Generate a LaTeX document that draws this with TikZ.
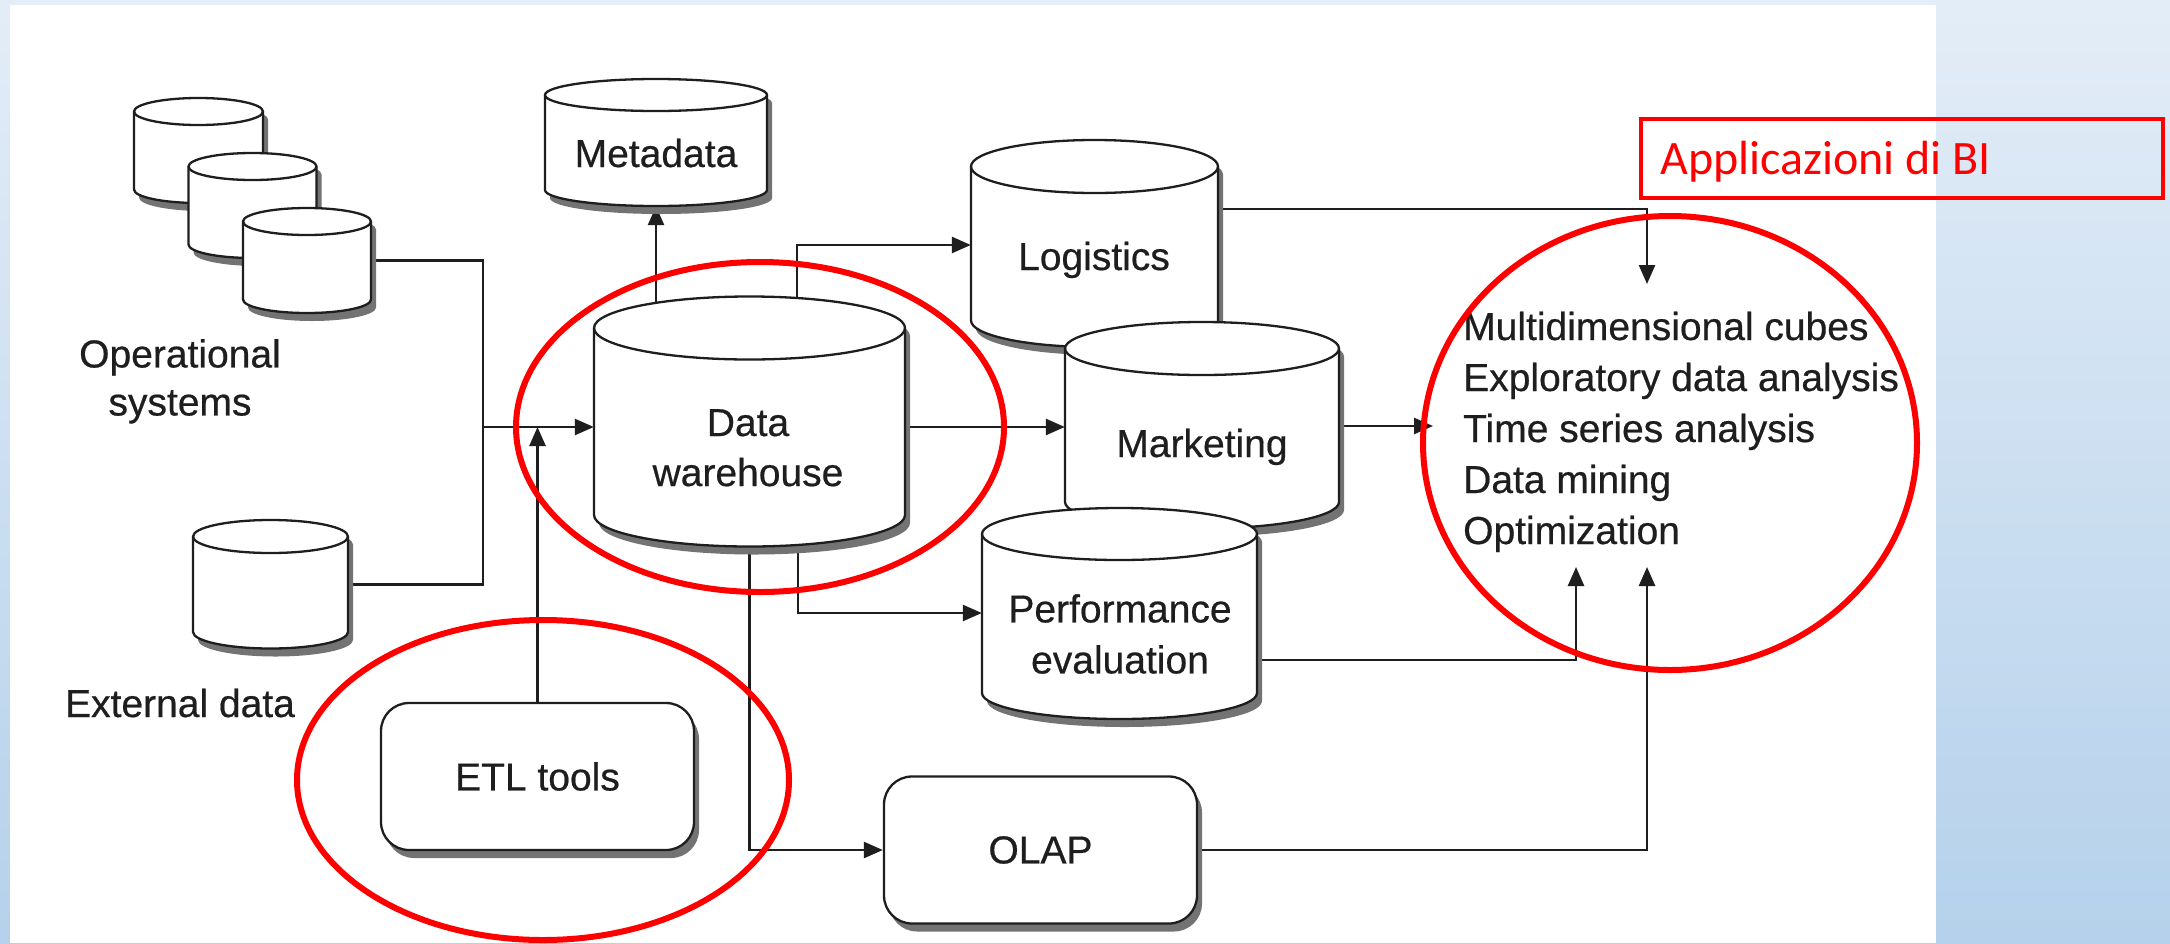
\documentclass[tikz,border=0pt]{standalone}
\usepackage{fontspec}
\setmainfont[FakeBold=0.5]{Liberation Sans}
\newfontfamily\titlefont{Carlito}
\usetikzlibrary{arrows.meta,shadows}

\pgfdeclarelayer{canvas}
\pgfdeclarelayer{wires}
\pgfsetlayers{canvas,wires,main}

\definecolor{ink}{HTML}{1E1E1E}
\definecolor{bgtop}{HTML}{E3EDF7}
\definecolor{bgbot}{HTML}{B5D1EB}
\definecolor{markred}{HTML}{FF0000}

\tikzset{
  conn/.style={draw=ink, line width=2.6pt},
  arr/.style={conn, -{Triangle[length=19pt,width=16pt]}},
  dbbody/.style={draw=ink, line width=2.3pt, fill=white},
  dbedge/.style={draw=ink, line width=2.3pt},
  dbshadow/.style={fill=black!55},
  lbl/.style={font=\fontsize{39}{50}\selectfont, text=ink, inner sep=0pt},
  procbox/.style={draw=ink, line width=2.3pt, fill=white, rounded corners=28pt,
    minimum width=313pt, minimum height=147pt, lbl,
    general shadow={fill=black!55, shadow xshift=5pt, shadow yshift=-8pt}},
  hilite/.style={draw=markred, line width=6pt},
}

% database cylinder: name, centre x, top-ellipse centre y, bottom-ellipse centre y,
% x radius, y radius (all in pixels, y measured downwards)
\newcommand\dbcyl[6]{%
  \pgfmathsetmacro\cylL{#2-#5}%
  \pgfmathsetmacro\cylR{#2+#5}%
  \pgfmathsetmacro\cylT{-(#3)}%
  \pgfmathsetmacro\cylB{-(#4)}%
  \pgfmathsetmacro\cylH{#4-#3+2*#6}%
  \pgfmathsetmacro\cylW{2*#5}%
  \pgfmathsetmacro\cylM{-(#3+#4)/2}%
  \path[dbshadow, shift={(5,-8)}] (\cylL,\cylT) -- (\cylL,\cylB)
    arc[start angle=180, end angle=360, x radius=#5pt, y radius=#6pt]
    -- (\cylR,\cylT)
    arc[start angle=0, end angle=180, x radius=#5pt, y radius=#6pt] -- cycle;
  \path[dbbody] (\cylL,\cylT) -- (\cylL,\cylB)
    arc[start angle=180, end angle=360, x radius=#5pt, y radius=#6pt]
    -- (\cylR,\cylT)
    arc[start angle=0, end angle=180, x radius=#5pt, y radius=#6pt] -- cycle;
  \draw[dbedge] (\cylL,\cylT)
    arc[start angle=180, end angle=360, x radius=#5pt, y radius=#6pt];
  \node[inner sep=0pt, minimum width=\cylW pt, minimum height=\cylH pt] (#1) at (#2,\cylM) {};
}

\begin{document}
\begin{tikzpicture}[x=1pt, y=1pt]
\useasboundingbox (0,0) rectangle (2170,-943);

% page background
\begin{pgfonlayer}{canvas}
  \shade[top color=bgtop, bottom color=bgbot] (0,0) rectangle (2170,-943);
  \fill[white] (10,-5) rectangle (1936,-943);
\end{pgfonlayer}

% sources
\dbcyl{ops1}{198.5}{111.5}{189.5}{64.5}{13.5}
\dbcyl{ops2}{252.5}{166.5}{244.5}{64}{13.5}
\dbcyl{ops3}{307}{221.5}{299.5}{64}{13.5}
\dbcyl{ext}{270.5}{536.5}{632}{77.5}{16.5}
\node[lbl, anchor=north, align=center, font=\fontsize{39}{48}\selectfont] (opstxt) at (180,-339) {Operational\\systems};
\node[lbl, anchor=base] (exttxt) at (180,-717) {External data};

% warehouse and metadata
\dbcyl{meta}{656}{95}{190}{111}{16}
\dbcyl{dw}{749.5}{328}{515}{155.5}{31.5}
\node[lbl, anchor=base] (metatxt) at (656,-167) {Metadata};
\node[lbl, anchor=north, align=center] (dwtxt) at (748,-409) {Data\\warehouse};

% data marts
\dbcyl{logi}{1094.5}{166.5}{320.5}{123.5}{26.5}
\dbcyl{mkt}{1202}{348.5}{502}{137}{26.5}
\dbcyl{perf}{1119.5}{534}{693}{137.5}{26}
\node[lbl, anchor=base] (logtxt) at (1094,-270) {Logistics};
\node[lbl, anchor=base] (mkttxt) at (1202,-457) {Marketing};
\node[lbl, anchor=north, align=center, font=\fontsize{39}{51}\selectfont] (perftxt) at (1120,-594) {Performance\\evaluation};

% tools
\node[procbox] (etl) at (537.5,-776.5) {ETL tools};
\node[procbox] (olap) at (1040.5,-850) {OLAP};

% analyses
\node[lbl, anchor=base west] (app1) at (1463,-340) {Multidimensional cubes};
\node[lbl, anchor=base west] (app2) at (1463,-391) {Exploratory data analysis};
\node[lbl, anchor=base west] (app3) at (1463,-442) {Time series analysis};
\node[lbl, anchor=base west] (app4) at (1463,-493) {Data mining};
\node[lbl, anchor=base west] (app5) at (1463,-544) {Optimization};

% connection points
\coordinate (bus) at (483,-427);
\coordinate (dwlog) at (797,-245);
\coordinate (dwperf) at (798,-613);
\coordinate (logout) at (1647,-209);
\coordinate (inTop) at (1647,-284);
\coordinate (inLeft) at (1433,-426);
\coordinate (perfout) at (1576,-660);
\coordinate (inPerf) at (1576,-567);
\coordinate (inOlap) at (1647,-567);

% connectors (beneath the shapes, so they start hidden inside their source)
\begin{pgfonlayer}{wires}
  \draw[conn] (ops3.center) -| (bus) |- (ext.center);
  \draw[arr] (bus) -- (bus -| dw.west);
  \draw[arr] (etl.center) -- (etl.center |- bus);
  \draw[arr] (meta.south |- dw.center) -- (meta.south);
  \draw[arr] (dwlog |- dw.center) -- (dwlog) -- (dwlog -| logi.west);
  \draw[arr] (bus -| dw.center) -- (bus -| mkt.west);
  \draw[arr] (dwperf |- dw.center) -- (dwperf) -- (dwperf -| perf.west);
  \draw[arr] (dw.center) -- (dw.center |- olap.west) -- (olap.west);
  \draw[arr] (logout -| logi.center) -- (logout) -- (inTop);
  \draw[arr] (mkt.center |- inLeft) -- (inLeft);
  \draw[arr] (perfout -| perf.center) -- (perfout) -- (inPerf);
  \draw[arr] (olap.center) -- (olap.center -| inOlap) -- (inOlap);
\end{pgfonlayer}

% highlights
\draw[hilite] (760,-427) ellipse [x radius=244pt, y radius=165pt];
\draw[hilite] (543,-780) ellipse [x radius=246pt, y radius=160pt];
\draw[hilite] (1670,-443) ellipse [x radius=247pt, y radius=227pt];
\node[draw=markred, line width=4pt, anchor=north west, inner sep=0pt,
      minimum width=522pt, minimum height=79pt] (bibox) at (1639,-117) {};
\node[anchor=base west, inner sep=0pt, text=markred,
      font=\titlefont\fontsize{48}{52}\selectfont] (bititle) at (1660,-174) {Applicazioni di BI};
\end{tikzpicture}
\end{document}
